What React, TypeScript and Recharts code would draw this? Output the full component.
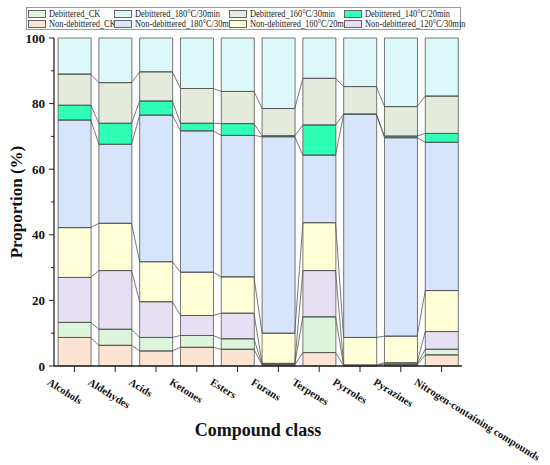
import React from 'react';
import { ComposedChart, Bar, Line, XAxis, YAxis } from 'recharts';

const categories = ['Alcohols', 'Aldehydes', 'Acids', 'Ketones', 'Esters', 'Furans', 'Terpenes', 'Pyrroles', 'Pyrazines', 'Nitrogen-containing compounds'];

const nonDebCK = [8.7, 6.3, 4.6, 5.7, 5.1, 0.3, 4.1, 0.1, 0.3, 3.4];
const debCK = [4.6, 4.9, 4.1, 3.6, 3.2, 0.2, 10.9, 0.1, 0.3, 1.7];
const non120 = [13.7, 17.9, 10.9, 6.1, 7.8, 0.3, 14.1, 0.1, 0.4, 5.4];
const non160 = [15.2, 14.4, 12.2, 13.2, 11.1, 9.2, 14.6, 8.4, 8.1, 12.5];
const non180 = [32.8, 24.1, 44.7, 43.1, 43.1, 59.9, 20.6, 68.1, 60.5, 45.2];
const deb140 = [4.5, 6.4, 4.3, 2.3, 3.6, 0.3, 9.2, 0, 0.5, 2.7];
const deb160 = [9.5, 12.4, 8.9, 10.6, 9.8, 8.3, 14.2, 8.4, 9.0, 11.4];
const deb180 = [11.0, 13.6, 10.3, 15.4, 16.3, 21.5, 12.3, 14.8, 20.9, 17.7];

const yTicks = [0, 10, 20, 30, 40, 50, 60, 70, 80, 90, 100];

// stacking order bottom -> top
const series = [
  { key: 'nck', name: 'Non-debittered_CK', values: nonDebCK, color: '#FDE4D2' },
  { key: 'dck', name: 'Debittered_CK', values: debCK, color: '#DCF5DC' },
  { key: 'n120', name: 'Non-debittered_120°C/30min', values: non120, color: '#E6E0F2' },
  { key: 'n160', name: 'Non-debittered_160°C/20min', values: non160, color: '#FFFFD8' },
  { key: 'n180', name: 'Non-debittered_180°C/30min', values: non180, color: '#D6E5FA' },
  { key: 'd140', name: 'Debittered_140°C/20min', values: deb140, color: '#30FFB8' },
  { key: 'd160', name: 'Debittered_160°C/30min', values: deb160, color: '#E4EBDC' },
  { key: 'd180', name: 'Debittered_180°C/30min', values: deb180, color: '#DCF8F8' },
];

const legendOrder = ['dck', 'd180', 'd160', 'd140', 'nck', 'n180', 'n160', 'n120'];

const data = categories.map((name, i) => {
  const row: any = { name };
  series.forEach((s) => { row[s.key] = s.values[i]; });
  return row;
});

const BAR_GAP = 0.1;

// connector lines: one per internal stack boundary
const boundaries = series.slice(0, series.length - 1).map((_, b) => {
  const pts: { x: number; y: number }[] = [];
  categories.forEach((_, i) => {
    let cum = 0;
    for (let k = 0; k <= b; k++) cum += series[k].values[i];
    pts.push({ x: i + BAR_GAP, y: cum });
    pts.push({ x: i + 1 - BAR_GAP, y: cum });
  });
  return pts;
});

const FONT = "'Liberation Serif', 'Times New Roman', serif";
const EDGE = '#555';

const XTick = (props: any) => {
  const { x, y, payload } = props;
  return (
    <g transform={`translate(${x},${y})`}>
      <text x={0} y={0} transform="translate(-28, 10) rotate(32)" textAnchor="start"
        fontFamily={FONT} fontWeight="bold" fontSize={10.6} fill="#111">
        {payload.value}
      </text>
    </g>
  );
};

const YTick = (props: any) => {
  const { x, y, payload } = props;
  const major = payload.value % 20 === 0;
  return (
    <g>
      <line x1={x + (major ? 4 : 6)} x2={x + 9} y1={y} y2={y} stroke="#222" strokeWidth={1} />
      {major && (
        <text x={x} y={y} dy={4.5} textAnchor="end" fontFamily={FONT} fontWeight="bold" fontSize={13} fill="#111">
          {payload.value}
        </text>
      )}
    </g>
  );
};

const legendCols = [1, 87, 202, 317];

export default function App() {
  const byKey: Record<string, any> = {};
  series.forEach((s) => { byKey[s.key] = s; });
  return (
    <div style={{ position: 'absolute', left: 0, top: 0, width: 550, height: 465, fontFamily: FONT, background: '#fff' }}>
      <ComposedChart width={550} height={465} data={data} margin={{ top: 38, right: 88, bottom: 0, left: 0 }} barCategoryGap={`${BAR_GAP * 100}%`}>
        <XAxis xAxisId="top" dataKey="name" orientation="top" height={0} tick={false} tickLine={false} axisLine={{ stroke: '#444', strokeWidth: 1 }} />
        <XAxis xAxisId="n" type="number" domain={[0, 10]} hide allowDataOverflow dataKey="x" />
        <XAxis dataKey="name" interval={0} height={99} tick={<XTick />} tickSize={6} tickMargin={2}
          tickLine={{ stroke: '#222', strokeWidth: 1 }} axisLine={{ stroke: '#222', strokeWidth: 1.3 }}
          label={{
            content: (p: any) => {
              const vb = p.viewBox || { x: 54, width: 408 };
              return (
                <text x={vb.x + vb.width / 2} y={436} textAnchor="middle" fontFamily={FONT} fontWeight="bold" fontSize={18} fill="#111">
                  Compound class
                </text>
              );
            },
          }}
        />
        <YAxis domain={[0, 100]} ticks={yTicks} interval={0} width={54} tick={<YTick />} tickLine={false} tickSize={5} tickMargin={4}
          axisLine={{ stroke: '#222', strokeWidth: 1.3 }}
          label={{
            content: (p: any) => {
              const vb = p.viewBox || { y: 38, height: 328 };
              const cy = vb.y + vb.height / 2;
              return (
                <text x={22} y={cy} transform={`rotate(-90, 22, ${cy})`} textAnchor="middle" fontFamily={FONT} fontWeight="bold" fontSize={17} fill="#111">
                  Proportion (%)
                </text>
              );
            },
          }}
        />
        {series.map((s) => (
          <Bar key={s.key} dataKey={s.key} name={s.name} stackId="a" fill={s.color} stroke={EDGE} strokeWidth={0.8} isAnimationActive={false} />
        ))}
        {boundaries.map((pts, b) => (
          <Line key={`c${b}`} xAxisId="n" data={pts} dataKey="y" type="linear" stroke={EDGE} strokeWidth={0.8} dot={false} activeDot={false} legendType="none" isAnimationActive={false} />
        ))}
      </ComposedChart>
      <div style={{ position: 'absolute', left: 26, top: 7, width: 435, height: 23, border: '1px solid #999', boxSizing: 'border-box', background: '#fff' }}>
        {legendOrder.map((k, idx) => {
          const s = byKey[k];
          const col = idx % 4;
          const row = Math.floor(idx / 4);
          return (
            <div key={k} style={{ position: 'absolute', left: legendCols[col], top: 1 + row * 10, height: 10, width: 110, display: 'flex', alignItems: 'center', whiteSpace: 'nowrap' }}>
              <div style={{ flex: '0 0 auto', width: 18, height: 8, background: s.color, border: '1px solid #666', boxSizing: 'border-box' }} />
              <span style={{ display: 'inline-block', marginLeft: 3, fontSize: 10, lineHeight: '10px', color: '#222', fontFamily: FONT, transform: 'scaleX(0.84)', transformOrigin: 'left center' }}>{s.name}</span>
            </div>
          );
        })}
      </div>
    </div>
  );
}
